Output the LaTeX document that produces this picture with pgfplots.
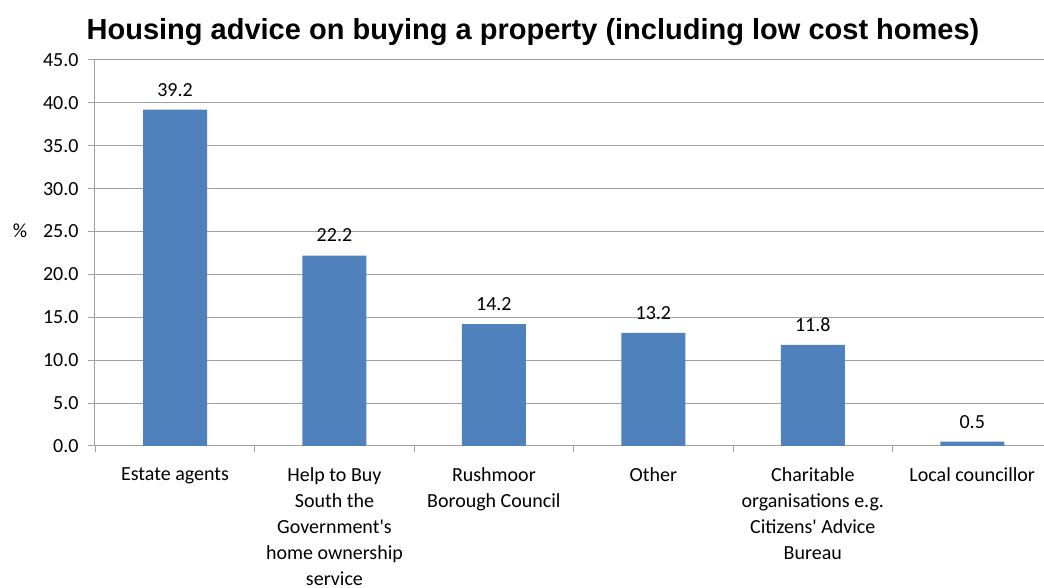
\documentclass[border=0pt]{standalone}
\usepackage{pgfplots}
\pgfplotsset{compat=1.18}
\usepackage{fontspec}
\setmainfont{Carlito}
\newfontfamily\titlefont{Liberation Sans}
\definecolor{barblue}{HTML}{4F81BD}
\definecolor{gridgray}{HTML}{A0A0A0}

\begin{document}
\begin{tikzpicture}
\begin{axis}[
  scale only axis, width=950pt, height=386pt,
  xmin=-0.508, xmax=5.45, ymin=0, ymax=45,
  axis x line*=bottom, axis y line*=left,
  axis line style={gridgray, line width=1pt},
  ytick={0,5,...,45},
  /pgf/number format/.cd, fixed, fixed zerofill, precision=1, assume math mode=true,
  /pgfplots/.cd,
  ymajorgrids, grid style={gridgray, line width=1pt},
  tick style={gridgray, line width=1pt},
  major tick length=6pt,
  tick align=outside,
  xtick={-0.5,0.5,1.5,2.5,3.5,4.5,5.5},
  xticklabels={},
  extra x ticks={0,1,2,3,4,5},
  extra x tick labels={Estate agents,
    {Help to Buy\\South the\\Government\textquotesingle s\\home ownership\\service},
    {Rushmoor\\Borough Council},
    Other,
    {Charitable\\organisations e.g.\\Citizens\textquotesingle\ Advice\\Bureau},
    Local councillor},
  extra x tick style={tick style={draw=none}, grid=none},
  xticklabel style={align=center, font=\fontsize{20}{26}\selectfont, anchor=north, yshift=-12pt},
  yticklabel style={font=\fontsize{20}{24}\selectfont, xshift=-6pt},
  ybar, bar width=64pt,
  nodes near coords={\pgfmathprintnumber[fixed,fixed zerofill,precision=1]{\pgfplotspointmeta}},
  nodes near coords style={font=\fontsize{20}{24}\selectfont, anchor=south, yshift=10pt},
]
\addplot[fill=barblue, draw=none] coordinates {
  (0,39.2) (1,22.2) (2,14.2) (3,13.2) (4,11.8) (5,0.5)
};
\coordinate (ll) at (rel axis cs:0,0);
\end{axis}
\path (ll) ++(-74pt,215pt) node[font=\fontsize{20}{24}\selectfont] {\%};
\path (ll) ++(439pt,414pt) node[font=\titlefont\bfseries\fontsize{29}{34}\selectfont] {Housing advice on buying a property (including low cost homes)};
\pgfresetboundingbox
\path (ll) ++(-94pt,-142pt) rectangle ++(1044pt,588pt);
\end{tikzpicture}
\end{document}
